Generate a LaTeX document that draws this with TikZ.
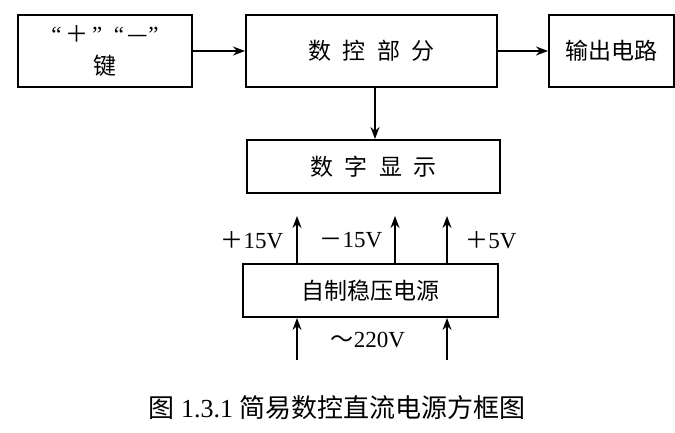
\documentclass[tikz,border=0pt]{standalone}
\usepackage{fontspec}
\setmainfont{Liberation Serif}
\newfontfamily\cjk{Noto Sans CJK SC}
\usetikzlibrary{positioning,arrows.meta}

\begin{document}
\begin{tikzpicture}
  [x=0.5pt, y=-0.5pt,
   block/.style={draw, line width=1pt, inner sep=0pt, align=center,
     font=\cjk\fontsize{11.5}{16}\selectfont},
   flow/.style={line width=0.8pt, -{Stealth[length=6pt,width=4.5pt]}},
   volt/.style={font=\fontsize{11.5}{14}\selectfont}]
  \useasboundingbox (0,0) rectangle (675,433);

  \node [block, minimum width=125.5pt, minimum height=36pt] (ctrl) at (371.5,51) {数\enspace 控\enspace 部\enspace 分};
  \node [block, minimum width=87pt, minimum height=36pt] (keys) [left=26pt of ctrl] {{\rmfamily “\,}＋{\rmfamily \,”\enspace“\,}—{\rmfamily ”}\\ 键};
  \node [block, minimum width=62.5pt, minimum height=36pt] (out) [right=25pt of ctrl] {输出电路};
  \node [block, minimum width=126.5pt, minimum height=26.5pt] (disp) [below=25.5pt of ctrl, xshift=1pt] {数\enspace 字\enspace 显\enspace 示};
  \node [block, minimum width=127.5pt, minimum height=26.5pt] (power) [below=34.5pt of disp, xshift=-1.5pt] {自制稳压电源};

  \coordinate (d) at (375,0);
  \coordinate (u1) at (297,216);
  \coordinate (u2) at (395,216);
  \coordinate (u3) at (447,216);
  \coordinate (b1) at (297,360);
  \coordinate (b2) at (447,360);

  \draw [flow] (keys) -- (ctrl);
  \draw [flow] (ctrl) -- (out);
  \draw [flow] (ctrl.south -| d) -- (disp.north -| d);
  \draw [flow] (power.north -| u1) -- (u1);
  \draw [flow] (power.north -| u2) -- (u2);
  \draw [flow] (power.north -| u3) -- (u3);
  \draw [flow] (b1) -- (power.south -| b1);
  \draw [flow] (b2) -- (power.south -| b2);

  \node [volt] (p15) at (252,240) {{\cjk ＋}15V};
  \node [volt] (m15) at (351,240) {{\cjk －}15V};
  \node [volt] (p5) at (491,240) {{\cjk ＋}5V};
  \node [volt] (ac) at (368,340) {{\cjk ～}220V};

  \node [font=\fontsize{13}{15}\selectfont] (cap) at (337,408) {{\cjk 图} 1.3.1 {\cjk 简易数控直流电源方框图}};
\end{tikzpicture}
\end{document}
